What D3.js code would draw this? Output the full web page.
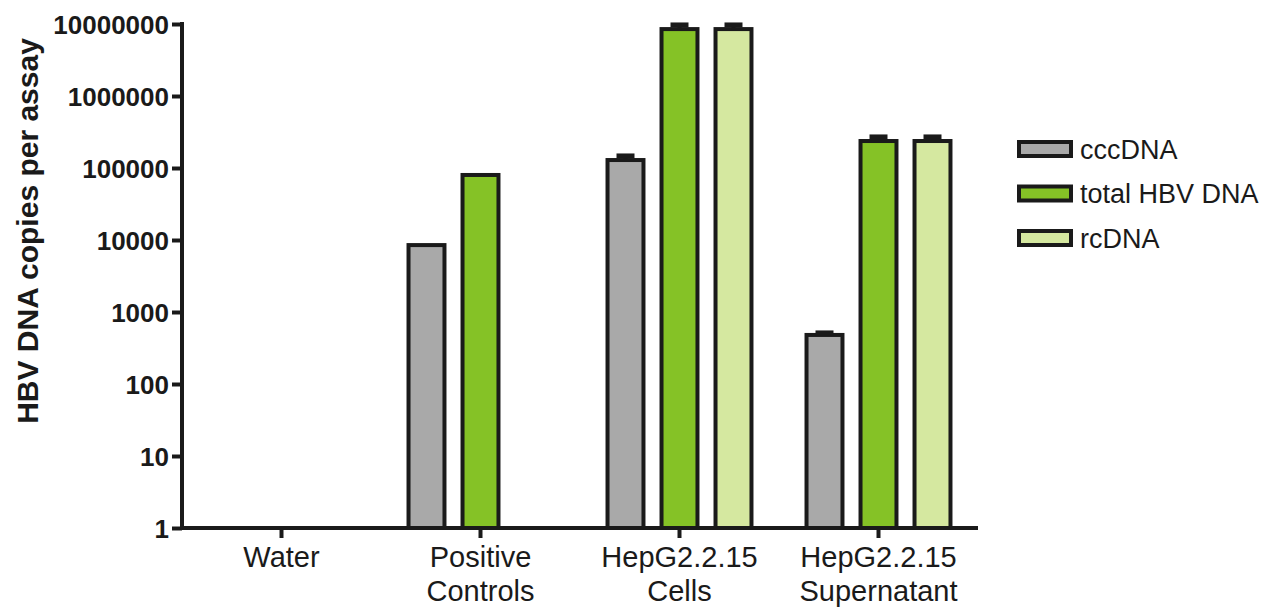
<!DOCTYPE html>
<html>
<head>
<meta charset="utf-8">
<script src="https://cdn.jsdelivr.net/npm/d3@7"></script>
<style>
  html, body { margin: 0; padding: 0; background: #ffffff; }
  svg { display: block; font-family: "Liberation Sans", Arial, sans-serif; }
</style>
</head>
<body>
<svg id="chart" width="1275" height="608"></svg>
<script>
// Sample groups (x categories) and their two-line axis labels
const groups = ["Water", "Positive Controls", "HepG2.2.15 Cells", "HepG2.2.15 Supernatant"];
const groupLabels = [["Water"], ["Positive", "Controls"], ["HepG2.2.15", "Cells"], ["HepG2.2.15", "Supernatant"]];

// Series names and fills
const seriesNames = ["cccDNA", "total HBV DNA", "rcDNA"];
const seriesColors = ["#a9a9a9", "#85c226", "#d5e8a0"];

// Copies per assay (mean) and SD for each series, per group (null = not measured / none detected)
const cccDNA      = [null, 8500, 129000, 480];
const cccDNAsd    = [null, null, 18000, 32];
const totalHBV    = [null, 80000, 8500000, 237000];
const totalHBVsd  = [null, null, 1200000, 33000];
const rcDNA       = [null, null, 8500000, 237000];
const rcDNAsd     = [null, null, 1200000, 33000];

// Log axis ticks
const yTicks = [1, 10, 100, 1000, 10000, 100000, 1000000, 10000000];

const seriesValues = [cccDNA, totalHBV, rcDNA];
const seriesSD = [cccDNAsd, totalHBVsd, rcDNAsd];

const svg = d3.select("#chart");
const ink = "#1a1a1a";
const lw = 4;

const x = d3.scaleBand().domain(groups).range([182, 978]).padding(0);
const y = d3.scaleLog().domain([1, 1e7]).range([528, 24]);

// Bars within a group: three slots, middle slot centred on the group tick
const inner = d3.scaleBand().domain(seriesNames).range([-81, 81]).paddingInner(0.26).paddingOuter(0.13);

const rows = [];
groups.forEach((g, gi) => {
  seriesNames.forEach((s, si) => {
    const v = seriesValues[si][gi];
    if (v != null) rows.push({ g, s, si, v, sd: seriesSD[si][gi] });
  });
});

const barW = inner.bandwidth() - lw;
const plot = svg.append("g");

plot.selectAll("rect.bar").data(rows).join("rect")
  .attr("class", "bar")
  .attr("x", d => x(d.g) + x.bandwidth() / 2 + inner(d.s) + lw / 2)
  .attr("width", barW)
  .attr("y", d => y(d.v))
  .attr("height", d => y(1) - y(d.v))
  .attr("fill", d => seriesColors[d.si])
  .attr("stroke", ink)
  .attr("stroke-width", lw);

// Error bars (upper whisker + cap)
const errRows = rows.filter(d => d.sd != null);
const cx = d => x(d.g) + x.bandwidth() / 2 + inner(d.s) + inner.bandwidth() / 2;
plot.selectAll("line.err").data(errRows).join("line")
  .attr("class", "err")
  .attr("x1", cx).attr("x2", cx)
  .attr("y1", d => y(d.v)).attr("y2", d => y(d.v + d.sd))
  .attr("stroke", ink).attr("stroke-width", lw);
plot.selectAll("line.cap").data(errRows).join("line")
  .attr("class", "cap")
  .attr("x1", d => cx(d) - 9).attr("x2", d => cx(d) + 9)
  .attr("y1", d => y(d.v + d.sd)).attr("y2", d => y(d.v + d.sd))
  .attr("stroke", ink).attr("stroke-width", lw + 1);

// Y axis
const yAxis = svg.append("g")
  .attr("transform", "translate(182,0)")
  .call(d3.axisLeft(y).tickValues(yTicks).tickFormat(d3.format("d")).tickSize(10).tickSizeOuter(0).tickPadding(3));
yAxis.select(".domain").attr("stroke", ink).attr("stroke-width", lw).attr("d", `M0,${y(1e7) - 2}V${y(1) + 2}`);
yAxis.selectAll(".tick line").attr("stroke", ink).attr("stroke-width", lw);
yAxis.selectAll(".tick text")
  .attr("fill", ink)
  .style("font-family", "'Liberation Sans', Arial, sans-serif")
  .style("font-size", "26px").style("font-weight", "bold")
  .attr("dy", "0.36em");

// X axis
const xAxis = svg.append("g")
  .attr("transform", `translate(0,${y(1)})`)
  .call(d3.axisBottom(x).tickSize(10).tickSizeOuter(0).tickFormat(""));
xAxis.select(".domain").attr("stroke", ink).attr("stroke-width", lw).attr("d", `M180,0H978`);
xAxis.selectAll(".tick line").attr("stroke", ink).attr("stroke-width", lw);
xAxis.selectAll(".tick").each(function (d, i) {
  const t = d3.select(this).append("text")
    .attr("fill", "#1a1a1a")
    .attr("text-anchor", "middle")
    .style("font-family", "'Liberation Sans', Arial, sans-serif")
    .style("font-size", "29px");
  groupLabels[i].forEach((line, li) => {
    t.append("tspan").attr("x", 0).attr("y", 39 + li * 34).text(line);
  });
});

// Y axis title
svg.append("text")
  .attr("transform", `translate(38,231) rotate(-90)`)
  .attr("text-anchor", "middle")
  .attr("fill", ink)
  .style("font-size", "30px").style("font-weight", "bold")
  .text("HBV DNA copies per assay");

// Legend
const legend = svg.append("g").attr("transform", "translate(1019,142)");
const item = legend.selectAll("g").data(seriesNames).join("g")
  .attr("transform", (d, i) => `translate(0,${i * 44.5})`);
item.append("rect")
  .attr("width", 52).attr("height", 14)
  .attr("fill", (d, i) => seriesColors[i])
  .attr("stroke", ink).attr("stroke-width", lw);
item.append("text")
  .attr("x", 61).attr("y", 7).attr("dy", "0.36em")
  .attr("fill", ink)
  .style("font-size", "27px")
  .text(d => d);
</script>
</body>
</html>
